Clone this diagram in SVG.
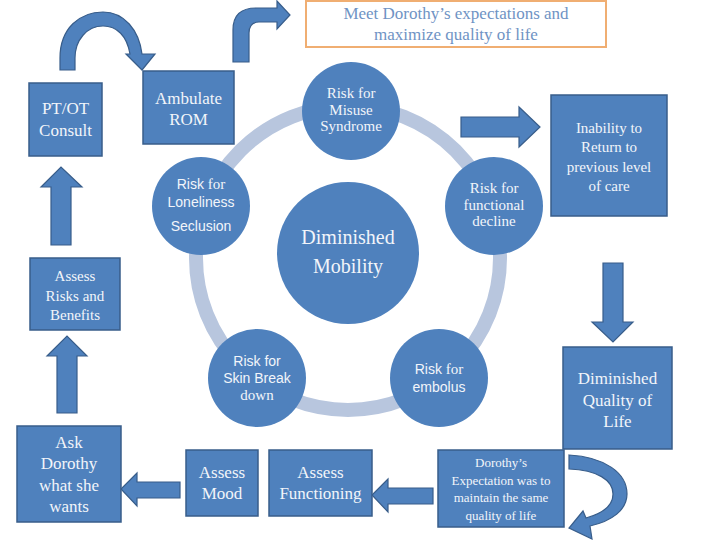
<svg xmlns="http://www.w3.org/2000/svg" width="720" height="540" viewBox="0 0 720 540">
<style>
.box{fill:#4F81BD;stroke:#385D8A;stroke-width:1.5}
.circ{fill:#4F81BD}
.arr{fill:#4F81BD;stroke:#385D8A;stroke-width:1.2}
text{fill:#F2F5FA;text-anchor:middle}
.goal{fill:#6F93C4}
</style>
<rect width="720" height="540" fill="#FFFFFF"/>

<g id="connectors">
  <circle cx="348" cy="258" r="152" fill="none" stroke="#B8C6DE" stroke-width="14"/>
  <path class="arr" d="M60,70 L60,58 C60,28 80,12 103,12 C124,12 139,30 142,54 L155,54 L142,70 L126,54 L130,54 C127,36 117,26 103,26 C87,26 75,40 75,58 L75,70 Z"/>
  <path class="arr" d="M233,62 L233,30 Q233,8 256,8 L277,8 L277,1 L290,15 L277,29 L277,22 L259,22 Q249,22 249,33 L249,62 Z"/>
  <path class="arr" d="M461,117 L519,117 L519,107 L540,127 L519,147 L519,137 L461,137 Z"/>
  <path class="arr" d="M603,263 L623,263 L623,322 L633,322 L613,342 L592,322 L603,322 Z"/>
  <path class="arr" d="M569,455 C605,457 627,473 627,494 C627,510 612,521 590,526 L592,539 L569,528 L583,511 L586,518 C604,513 613,505 613,494 C613,480 597,470 569,469 Z"/>
  <path class="arr" d="M433,488 L388,488 L388,479 L372,495 L388,512 L388,504 L433,504 Z"/>
  <path class="arr" d="M180,482 L137,482 L137,473 L121,489 L137,506 L137,498 L180,498 Z"/>
  <path class="arr" d="M57,413 L57,356 L47,356 L67,336 L87,356 L77,356 L77,413 Z"/>
  <path class="arr" d="M51,245 L51,187 L41,187 L61,167 L82,187 L71,187 L71,245 Z"/>
</g>

<g id="goal" font-family="Liberation Serif, DejaVu Serif, serif">
  <rect x="306" y="1" width="300" height="46" fill="#FFFFFF" stroke="#F0AE72" stroke-width="2"/>
  <text class="goal" x="456" y="19" font-size="17">Meet Dorothy’s expectations and</text>
  <text class="goal" x="456" y="40" font-size="17">maximize quality of life</text>
</g>

<g id="ptot" font-family="Liberation Serif, DejaVu Serif, serif">
  <rect class="box" x="29" y="83" width="73" height="73"/>
  <text x="65.5" y="114" font-size="17">PT/OT</text>
  <text x="65.5" y="136" font-size="17">Consult</text>
</g>

<g id="ambulate" font-family="Liberation Serif, DejaVu Serif, serif">
  <rect class="box" x="143" y="71" width="91" height="73"/>
  <text x="188.5" y="104" font-size="17">Ambulate</text>
  <text x="188.5" y="125" font-size="17">ROM</text>
</g>

<g id="inability" font-family="Liberation Serif, DejaVu Serif, serif">
  <rect class="box" x="551" y="95" width="116" height="121"/>
  <text x="609" y="133" font-size="15">Inability to</text>
  <text x="609" y="152" font-size="15">Return to</text>
  <text x="609" y="172" font-size="15">previous level</text>
  <text x="609" y="191" font-size="15">of  care</text>
</g>

<g id="dimqol" font-family="Liberation Serif, DejaVu Serif, serif">
  <rect class="box" x="563" y="347" width="109" height="102"/>
  <text x="617.5" y="384" font-size="17">Diminished</text>
  <text x="617.5" y="406" font-size="17">Quality of</text>
  <text x="617.5" y="427" font-size="17">Life</text>
</g>

<g id="expectation" font-family="Liberation Serif, DejaVu Serif, serif">
  <rect class="box" x="438" y="450" width="126" height="77"/>
  <text x="501" y="467" font-size="13">Dorothy’s</text>
  <text x="501" y="485" font-size="13">Expectation was to</text>
  <text x="501" y="502" font-size="13">maintain the  same</text>
  <text x="501" y="520" font-size="13">quality of  life</text>
</g>

<g id="assessfunc" font-family="Liberation Serif, DejaVu Serif, serif">
  <rect class="box" x="269" y="450" width="103" height="66"/>
  <text x="320.5" y="478" font-size="17">Assess</text>
  <text x="320.5" y="499" font-size="17">Functioning</text>
</g>

<g id="assessmood" font-family="Liberation Serif, DejaVu Serif, serif">
  <rect class="box" x="186" y="450" width="72" height="66"/>
  <text x="222" y="478" font-size="17">Assess</text>
  <text x="222" y="499" font-size="17">Mood</text>
</g>

<g id="askdorothy" font-family="Liberation Serif, DejaVu Serif, serif">
  <rect class="box" x="17" y="426" width="104" height="96"/>
  <text x="69" y="448" font-size="17">Ask</text>
  <text x="69" y="469" font-size="17">Dorothy</text>
  <text x="69" y="491" font-size="17">what she</text>
  <text x="69" y="512" font-size="17">wants</text>
</g>

<g id="assessrisks" font-family="Liberation Serif, DejaVu Serif, serif">
  <rect class="box" x="30" y="258" width="90" height="72"/>
  <text x="75" y="281" font-size="15">Assess</text>
  <text x="75" y="301" font-size="15">Risks and</text>
  <text x="75" y="320" font-size="15">Benefits</text>
</g>

<g id="mobility" font-family="Liberation Serif, DejaVu Serif, serif">
  <circle class="circ" cx="348" cy="253" r="71"/>
  <text x="348" y="244" font-size="20">Diminished</text>
  <text x="348" y="273" font-size="20">Mobility</text>
</g>

<g id="misuse" font-family="Liberation Serif, DejaVu Serif, serif">
  <circle class="circ" cx="351" cy="111" r="49"/>
  <text x="351" y="98" font-size="15">Risk for</text>
  <text x="351" y="115" font-size="15">Misuse</text>
  <text x="351" y="131" font-size="15">Syndrome</text>
</g>

<g id="functional" font-family="Liberation Serif, DejaVu Serif, serif">
  <circle class="circ" cx="494" cy="206" r="49"/>
  <text x="494" y="193" font-size="15">Risk for</text>
  <text x="494" y="210" font-size="15">functional</text>
  <text x="494" y="226" font-size="15">decline</text>
</g>

<g id="embolus" font-family="Liberation Sans, Arial, sans-serif">
  <circle class="circ" cx="439" cy="378" r="49"/>
  <text x="439" y="374" font-size="14">Risk <tspan font-family="Liberation Serif, DejaVu Serif, serif" font-size="15">for</tspan></text>
  <text x="439" y="392" font-size="14">embolus</text>
</g>

<g id="skin" font-family="Liberation Sans, Arial, sans-serif">
  <circle class="circ" cx="257" cy="378" r="49"/>
  <text x="257" y="366" font-size="14">Risk for</text>
  <text x="257" y="383" font-size="14">Skin Break</text>
  <text x="257" y="400" font-size="15" font-family="Liberation Serif, DejaVu Serif, serif">down</text>
</g>

<g id="loneliness" font-family="Liberation Sans, Arial, sans-serif">
  <circle class="circ" cx="201" cy="206" r="49"/>
  <text x="201" y="189" font-size="14">Risk <tspan font-family="Liberation Serif, DejaVu Serif, serif" font-size="15">for</tspan></text>
  <text x="201" y="207" font-size="14">Loneliness</text>
  <text x="201" y="231" font-size="14">Seclusion</text>
</g>
</svg>
